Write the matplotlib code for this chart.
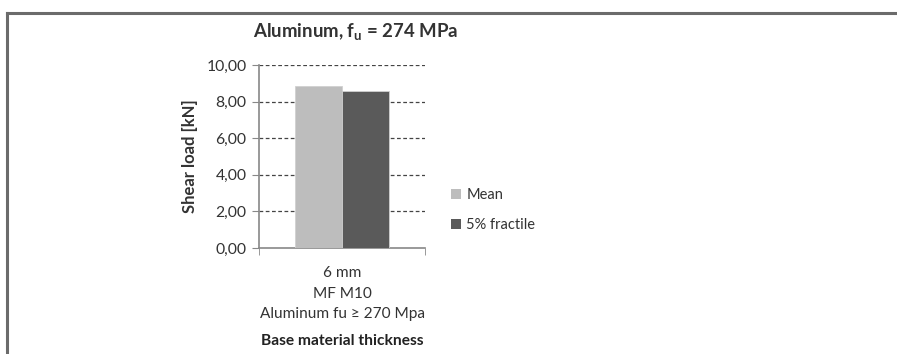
import matplotlib
matplotlib.use('Agg')
import matplotlib.pyplot as plt
from matplotlib.patches import Patch
from matplotlib.lines import Line2D

plt.rcParams['font.family'] = ['Lato', 'DejaVu Sans']

categories = ['6 mm\nMF M10\nAluminum fu \u2265 270 Mpa']
series_names = ['Mean', '5% fractile']
mean_vals = [8.85]
fractile_vals = [8.58]
yticks = [0, 2, 4, 6, 8, 10]
colors = ['#bdbdbd', '#5a5a5a']

fig = plt.figure(figsize=(8.97, 3.54), dpi=100)
ax = fig.add_axes([259 / 897, 1 - 248 / 354, 166 / 897, 183 / 354])

w = 0.286
x = range(len(categories))
ax.bar([i - w / 2 for i in x], mean_vals, width=w, color=colors[0], edgecolor='#d0d0d0', linewidth=0.6, zorder=3)
ax.bar([i + w / 2 for i in x], fractile_vals, width=w, color=colors[1], edgecolor='#d0d0d0', linewidth=0.6, zorder=3)

ax.set_xlim(-0.5, 0.5)
ax.set_ylim(0, 10)
ax.set_yticks(yticks)
ax.set_yticklabels([('%.2f' % v).replace('.', ',') for v in yticks])
ax.set_xticks(list(x))
ax.set_xticklabels(categories, fontsize=11.1, color='#333333', linespacing=1.6)
ax.set_xticks([-0.5, 0.5], minor=True)
ax.tick_params(axis='x', which='major', length=0, pad=13)
ax.tick_params(axis='x', which='minor', length=5, color='#888888', direction='out')
ax.tick_params(axis='y', length=5, color='#888888', labelsize=11.3, labelcolor='#333333', pad=4)

for v in yticks[1:]:
    ax.axhline(v, color='#444444', linestyle=(0, (3, 2)), linewidth=0.9, zorder=1)

for s in ['top', 'right']:
    ax.spines[s].set_visible(False)
for s in ['left', 'bottom']:
    ax.spines[s].set_color('#888888')
    ax.spines[s].set_linewidth(1.2)

ax.set_ylabel('Shear load [kN]', fontsize=12, fontweight='bold', color='#333333', labelpad=6)
ax.set_xlabel('Base material thickness', fontsize=11.2, fontweight='bold', color='#222222', labelpad=9)

fig.text(356 / 897, 1 - 32 / 354, r'Aluminum, f$_\mathregular{u}$ = 274 MPa', fontsize=13.4,
         fontweight='bold', color='#333333', ha='center', va='center')

handles = [Patch(facecolor=c, edgecolor='none') for c in colors]
fig.legend(handles, series_names, loc='center left', bbox_to_anchor=(438 / 897, 1 - 210 / 354),
           frameon=False, fontsize=10.5, handlelength=0.65, handleheight=0.65, handletextpad=0.4,
           labelspacing=1.1, labelcolor='#333333')

# outer frame
fig.add_artist(Line2D([7 / 897, 1], [1 - 13 / 354, 1 - 13 / 354], color='#6b6b6b', linewidth=2.2, transform=fig.transFigure))
fig.add_artist(Line2D([7 / 897, 7 / 897], [0, 1 - 13 / 354], color='#6b6b6b', linewidth=2.2, transform=fig.transFigure))

fig.savefig('out.png', dpi=100)
